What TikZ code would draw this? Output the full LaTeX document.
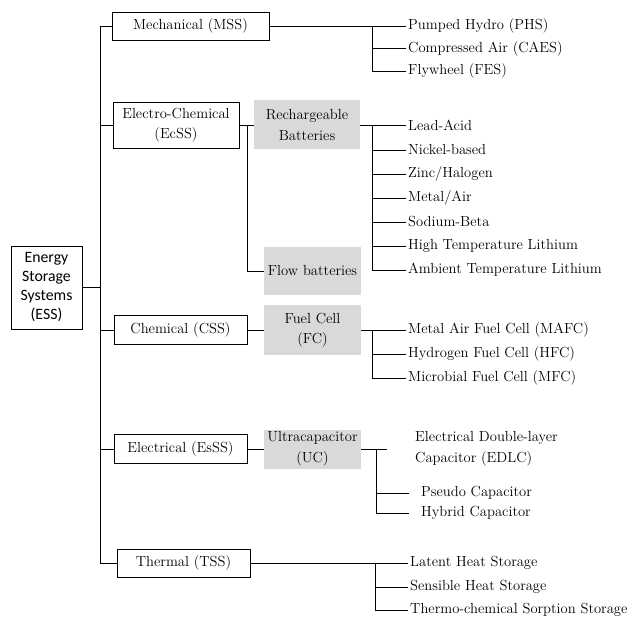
\documentclass[tikz,border=0pt]{standalone}
\usepackage{fontspec}
\newfontfamily\calib{Carlito}
\definecolor{boxgray}{HTML}{D9D9D9}
\begin{document}
\begin{tikzpicture}[x=1pt,y=-1pt,
  every node/.style={font=\rmfamily\fontsize{14.6}{20.5}\selectfont},
  wbox/.style={draw, line width=0.9pt, inner sep=0pt, align=center},
  gbox/.style={fill=boxgray, inner sep=0pt, align=center},
  leaf/.style={anchor=west, inner xsep=2pt, inner ysep=0pt},
  conn/.style={line width=0.9pt}]
\useasboundingbox (0,0) rectangle (642,617);
% main boxes
\node[wbox, minimum width=71pt, minimum height=83pt, font=\calib\fontsize{15.8}{19}\selectfont] (ess) at (46.5,287.5) {Energy\\Storage\\Systems\\(ESS)};
\node[wbox, minimum width=157pt, minimum height=28pt] (mss) at (190.5,26) {Mechanical (MSS)};
\node[wbox, minimum width=126pt, minimum height=46pt] (ecss) at (176,125) {Electro-Chemical\\(EcSS)};
\node[wbox, minimum width=133pt, minimum height=29pt] (css) at (180.5,330) {Chemical (CSS)};
\node[wbox, minimum width=133pt, minimum height=29pt] (esss) at (180.5,449) {Electrical (EsSS)};
\node[wbox, minimum width=133pt, minimum height=28pt] (tss) at (183.5,563) {Thermal (TSS)};
% gray boxes
\node[gbox, minimum width=106pt, minimum height=49pt] (rb) at (307,125) {Rechargeable\\Batteries};
\node[gbox, minimum width=97pt, minimum height=48pt] (fb) at (312.5,271) {Flow batteries};
\node[gbox, minimum width=97pt, minimum height=50pt] (fc) at (312.5,330) {Fuel Cell\\(FC)};
\node[gbox, minimum width=97pt, minimum height=39pt] (uc) at (312.5,449) {Ultracapacitor\\(UC)};
% leaves
\node[leaf] (phs) at (406,26) {Pumped Hydro (PHS)};
\node[leaf] (caes) at (406,48.5) {Compressed Air (CAES)};
\node[leaf] (fes) at (406,71) {Flywheel (FES)};
\node[leaf] (la) at (406,125) {Lead-Acid};
\node[leaf] (nb) at (406,150) {Nickel-based};
\node[leaf] (zh) at (406,174) {Zinc/Halogen};
\node[leaf] (ma) at (406,198) {Metal/Air};
\node[leaf] (sb) at (406,222) {Sodium-Beta};
\node[leaf] (ht) at (406,246) {High Temperature Lithium};
\node[leaf] (at) at (406,270) {Ambient Temperature Lithium};
\node[leaf] (mafc) at (406,330) {Metal Air Fuel Cell (MAFC)};
\node[leaf] (hfc) at (406,354) {Hydrogen Fuel Cell (HFC)};
\node[leaf] (mfc) at (406,378) {Microbial Fuel Cell (MFC)};
\node[leaf, align=left] (edlc) at (413,449) {Electrical Double-layer\\Capacitor (EDLC)};
\node[leaf] (pc) at (409,493) {\hspace*{10pt}Pseudo Capacitor};
\node[leaf] (hc) at (409,513) {\hspace*{10pt}Hybrid Capacitor};
\node[leaf] (lhs) at (408,563) {Latent Heat Storage};
\node[leaf] (shs) at (408,587) {Sensible Heat Storage};
\node[leaf] (tcs) at (408,610) {Thermo-chemical Sorption Storage};
% helper coordinates
\coordinate (tr) at (100,0);
\coordinate (e1) at (247,0);
\coordinate (r1) at (372,0);
\coordinate (u1) at (376,0);
\coordinate (u2) at (387,449);
\coordinate (t1) at (375,0);
% main trunk
\draw[conn] (mss.west) -- (mss.west -| tr) |- (tss.west);
\draw[conn] (ess.east) -- (ess.east -| tr);
\draw[conn] (ecss.west -| tr) -- (ecss.west);
\draw[conn] (css.west -| tr) -- (css.west);
\draw[conn] (esss.west -| tr) -- (esss.west);
% mechanical
\draw[conn] (mss.east) -- (phs.west);
\draw[conn] (phs.west -| r1) |- (fes.west);
\draw[conn] (caes.west -| r1) -- (caes.west);
% electro-chemical
\draw[conn] (ecss.east) -- (rb.west);
\draw[conn] (ecss.east -| e1) |- (fb.west);
\draw[conn] (rb.east) -- (la.west);
\draw[conn] (la.west -| r1) |- (at.west);
\foreach \n in {nb,zh,ma,sb,ht} \draw[conn] (\n.west -| r1) -- (\n.west);
% chemical
\draw[conn] (css.east) -- (fc.west);
\draw[conn] (fc.east) -- (mafc.west);
\draw[conn] (mafc.west -| r1) |- (mfc.west);
\draw[conn] (hfc.west -| r1) -- (hfc.west);
% electrical
\draw[conn] (esss.east) -- (uc.west);
\draw[conn] (uc.east) -- (u2);
\draw[conn] (uc.east -| u1) |- (hc.west);
\draw[conn] (pc.west -| u1) -- (pc.west);
% thermal
\draw[conn] (tss.east) -- (lhs.west);
\draw[conn] (lhs.west -| t1) |- (tcs.west);
\draw[conn] (shs.west -| t1) -- (shs.west);
\end{tikzpicture}
\end{document}
